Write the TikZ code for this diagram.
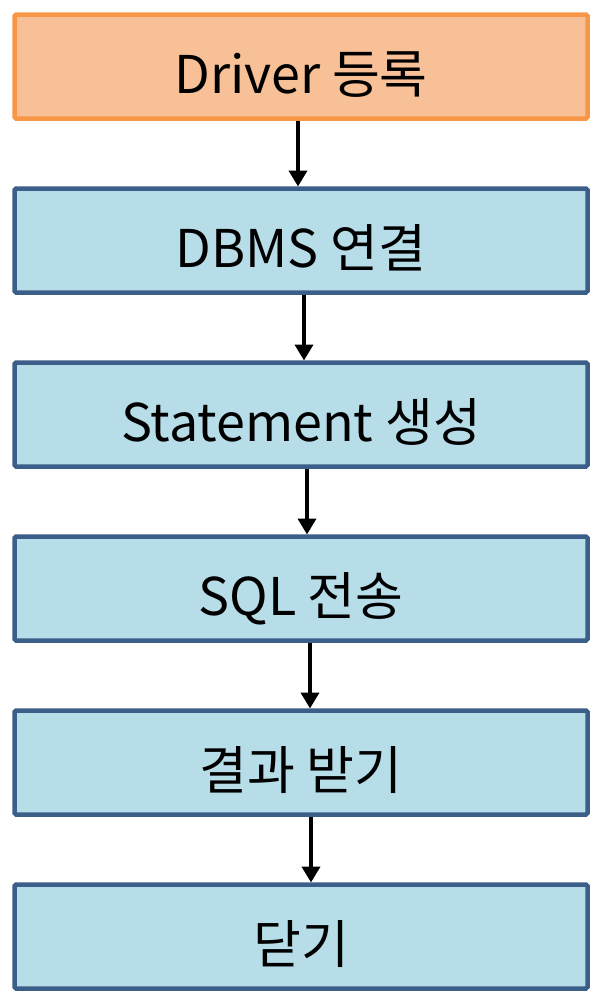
\documentclass[tikz,border=0pt]{standalone}
\usepackage{fontspec}
\setmainfont{Noto Sans CJK KR}
\usetikzlibrary{positioning,arrows.meta}

\definecolor{stepfill}{HTML}{B7DDE8}
\definecolor{stepline}{HTML}{3C5F8A}
\definecolor{startfill}{HTML}{F8C096}
\definecolor{startline}{HTML}{F79646}

\tikzset{
  stepbox/.style={draw=stepline, fill=stepfill, line width=4.5pt, rounded corners=1.5pt,
    minimum width=573pt, minimum height=104pt, inner sep=0pt, outer sep=0pt,
    text height=60pt, text depth=6pt,
    font=\fontsize{52}{62}\selectfont},
  startbox/.style={stepbox, draw=startline, fill=startfill},
  flow/.style={line width=3.8pt, -{Triangle[length=16pt,width=18pt]}}
}

\begin{document}
\begin{tikzpicture}[node distance=70pt]
   \useasboundingbox (0,0) rectangle (608pt,-1002pt);
   \node[startbox] (driver) at (301pt,-66.5pt) {Driver 등록};
   \node[stepbox] (dbms) [below=of driver] {DBMS 연결};
   \node[stepbox] (stmt) [below=of dbms] {Statement 생성};
   \node[stepbox] (sql) [below=of stmt] {SQL 전송};
   \node[stepbox] (result) [below=of sql] {결과 받기};
   \node[stepbox] (close) [below=of result] {닫기};

   \draw[flow] ([xshift=-3pt,yshift=-2pt]driver.south) -- ([xshift=-3pt,yshift=2pt]dbms.north);
   \draw[flow] ([xshift=3pt,yshift=-2pt]dbms.south) -- ([xshift=3pt,yshift=2pt]stmt.north);
   \draw[flow] ([xshift=6pt,yshift=-2pt]stmt.south) -- ([xshift=6pt,yshift=2pt]sql.north);
   \draw[flow] ([xshift=9pt,yshift=-2pt]sql.south) -- ([xshift=9pt,yshift=2pt]result.north);
   \draw[flow] ([xshift=10pt,yshift=-2pt]result.south) -- ([xshift=10pt,yshift=2pt]close.north);
\end{tikzpicture}
\end{document}
